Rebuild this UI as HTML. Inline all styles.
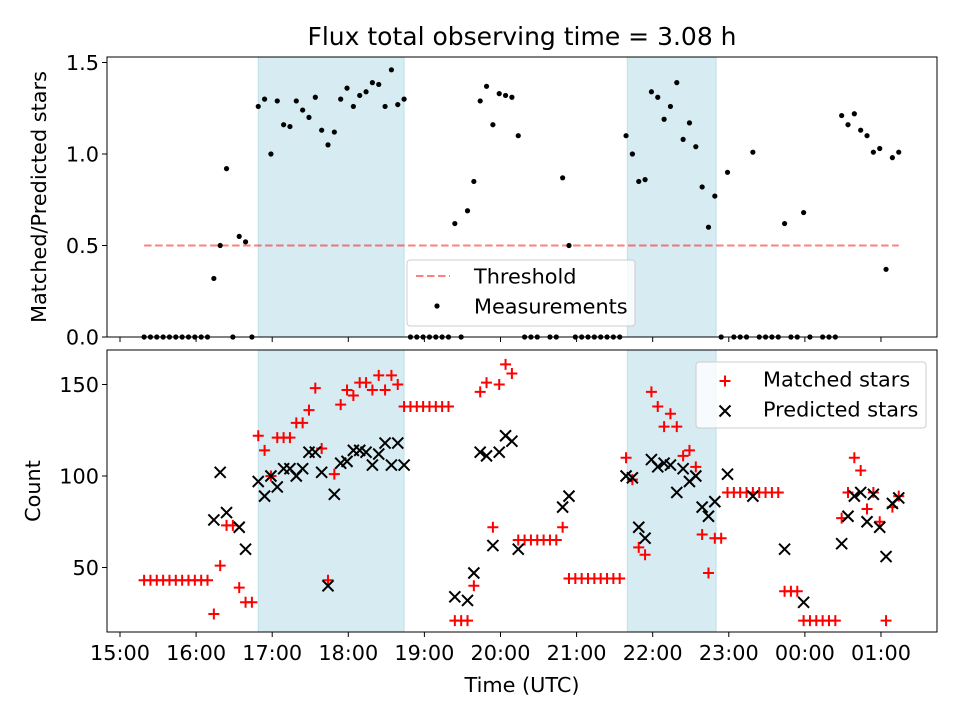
<!DOCTYPE html>
<html><head><meta charset="utf-8"><style>
html,body{margin:0;padding:0;background:#fff;}
svg{display:block;font-family:"DejaVu Sans","Liberation Sans",sans-serif;}
</style></head><body>
<svg id="chart" width="960" height="720" viewBox="0 0 960 720" xmlns="http://www.w3.org/2000/svg">
<rect width="960" height="720" fill="#fff"/>
<text x="522" y="45" font-size="25" text-anchor="middle">Flux total observing time = 3.08 h</text>
<g id="topPanel"></g><g id="botPanel"></g>
<text transform="translate(46,197) rotate(-90)" font-size="20.8" text-anchor="middle">Matched/Predicted stars</text>
<text transform="translate(40,491) rotate(-90)" font-size="20.8" text-anchor="middle">Count</text>
<text x="522" y="692" font-size="20.8" text-anchor="middle">Time (UTC)</text>
</svg>
<script>
// times in minutes after 15:00 UTC
const xTickMinutes = [0,60,120,180,240,300,360,420,480,540,600];
const xTickLabels = ["15:00","16:00","17:00","18:00","19:00","20:00","21:00","22:00","23:00","00:00","01:00"];
const topYTicks = [0.0,0.5,1.0,1.5];
const topYTickLabels = ["0.0","0.5","1.0","1.5"];
const botYTicks = [50,100,150];
const botYTickLabels = ["50","100","150"];
const shadeStart = [109,400];
const shadeEnd = [224,470];
const threshold = 0.5;
const thresholdStart = 19;
const thresholdEnd = 614;
const ratioTimes = [19,24,29,34,39,44,49,54,59,64,69,74,79,84,89,94,99,104,109,114,119,124,129,134,139,144,149,154,159,164,169,174,179,184,189,194,199,204,209,214,219,224,229,234,239,244,249,254,259,264,269,274,279,284,289,294,299,304,309,314,319,324,329,339,344,349,354,359,364,369,374,379,384,389,394,399,404,409,414,419,424,429,434,439,444,449,454,459,464,469,474,479,484,489,494,499,504,509,514,519,524,529,534,539,544,554,559,564,569,574,579,584,589,594,599,604,609,614];
const ratioValues = [0,0,0,0,0,0,0,0,0,0,0,0.32,0.5,0.92,0,0.55,0.52,0,1.26,1.30,1.00,1.29,1.16,1.15,1.29,1.24,1.20,1.31,1.13,1.05,1.12,1.30,1.36,1.26,1.32,1.34,1.39,1.38,1.26,1.46,1.27,1.30,0,0,0,0,0,0,0,0.62,0,0.69,0.85,1.29,1.37,1.16,1.33,1.32,1.31,1.10,0,0,0,0,0,0.87,0.5,0,0,0,0,0,0,0,0,1.10,1.00,0.85,0.86,1.34,1.31,1.19,1.26,1.39,1.08,1.17,1.04,0.82,0.60,0.77,0,0.90,0,0,0,1.01,0,0,0,0,0.62,0,0,0.68,0,0,0,0,1.21,1.16,1.22,1.13,1.10,1.01,1.03,0.37,0.98,1.01];
const matchedTimes = [19,24,29,34,39,44,49,54,59,64,69,74,79,84,89,94,99,104,109,114,119,124,129,134,139,144,149,154,159,164,169,174,179,184,189,194,199,204,209,214,219,224,229,234,239,244,249,254,259,264,269,274,279,284,289,294,299,304,309,314,319,324,329,334,339,344,349,354,359,364,369,374,379,384,389,394,399,404,409,414,419,424,429,434,439,444,449,454,459,464,469,474,479,484,489,494,499,504,509,514,519,524,529,534,539,544,549,554,559,564,569,574,579,584,589,594,599,604,609,614];
const matchedValues = [43,43,43,43,43,43,43,43,43,43,43,24.6,51,73,73,39,31,31,122,114,100,121,121,121,129,129,136,148,115,43,101,139,147,144,151,151,147,155,147,155,150,138,138,138,138,138,138,138,138,21,21,21,40,146,151,72,150,161,156,65,65,65,65,65,65,65,72,44,44,44,44,44,44,44,44,44,110,98,61,57,146,138,127,134,127,111,114,105,68,47,66,66,91,91,91,91,91,91,91,91,91,37,37,37,21,21,21,21,21,21,77,91,110,103,82,91,75,21,83,89];
const predictedTimes = [74,79,84,94,99,109,114,119,124,129,134,139,144,149,154,159,164,169,174,179,184,189,194,199,204,209,214,219,224,264,274,279,284,289,294,299,304,309,314,349,354,399,404,409,414,419,424,429,434,439,444,449,454,459,464,469,479,499,524,539,569,574,579,584,589,594,599,604,609,614];
const predictedValues = [76,102,80,72,60,97,89,100,94,104,104,100,104,113,113,102,40,90,107,108,114,114,113,106,112,118,106,118,106,34,32,47,113,111,62,113,122,119,60,83,89,100,99,72,66,109,105,107,106,91,104,97,100,83,78,86,101,89,60,31,63,78,89,91,75,90,72,56,85,88];

const NS="http://www.w3.org/2000/svg";
const L=107,R=937;
const FS=20.8;
const xs=m=>120+m*1.2683;
const yT=v=>337-183*v;
const yB=v=>659-1.83*v;
function mk(p,tag,at){const e=document.createElementNS(NS,tag);for(const k in at)e.setAttribute(k,at[k]);p.appendChild(e);return e;}
const topG=document.getElementById('topPanel'), botG=document.getElementById('botPanel');

function panel(g,y0,y1,isTop){
  for(let i=0;i<shadeStart.length;i++){
    const r=mk(g,'rect',{x:xs(shadeStart[i]),y:y0,width:xs(shadeEnd[i])-xs(shadeStart[i]),height:y1-y0,fill:'#add8e6','fill-opacity':0.5,stroke:'#add8e6','stroke-opacity':0.7});
    
    
  }
  for(let i=0;i<xTickMinutes.length;i++){
    const x=xs(xTickMinutes[i]);
    const t=mk(g,'line',{x1:x,x2:x,y1:y1,y2:y1+5,stroke:'#000','stroke-width':1});
    
    
    if(!isTop){
      const tl=mk(g,'text',{x:x,y:y1+28,'font-size':FS,'text-anchor':'middle'});
      tl.textContent=xTickLabels[i];
      
      
    }
  }
}
panel(topG,57,337,true);
panel(botG,350,632,false);

topYTicks.forEach((v,i)=>{
  const y=yT(v);
  const t=mk(topG,'line',{x1:L-5,x2:L,y1:y,y2:y,stroke:'#000'});
  
  
  const tl=mk(topG,'text',{x:L-8,y:y+7.5,'font-size':FS,'text-anchor':'end'});
  tl.textContent=topYTickLabels[i];
  
  
});
botYTicks.forEach((v,i)=>{
  const y=yB(v);
  const t=mk(botG,'line',{x1:L-5,x2:L,y1:y,y2:y,stroke:'#000'});
  
  
  const tl=mk(botG,'text',{x:L-8,y:y+7.5,'font-size':FS,'text-anchor':'end'});
  tl.textContent=botYTickLabels[i];
  
  
});

const th=mk(topG,'line',{x1:xs(thresholdStart),x2:xs(thresholdEnd),y1:yT(threshold),y2:yT(threshold),stroke:'#ff0000','stroke-opacity':0.5,'stroke-width':2,'stroke-dasharray':'7.5,3.5'});



ratioTimes.forEach((m,i)=>{
  const c=mk(topG,'circle',{cx:xs(m),cy:yT(ratioValues[i]),r:2.6,fill:'#000'});
  
  
});

function plus(g,x,y,col,s){
  return mk(g,'path',{d:`M${x-s},${y}H${x+s}M${x},${y-s}V${y+s}`,stroke:col,'stroke-width':2,fill:'none'});
}
function cross(g,x,y,col,s){
  return mk(g,'path',{d:`M${x-s},${y-s}L${x+s},${y+s}M${x-s},${y+s}L${x+s},${y-s}`,stroke:col,'stroke-width':2,fill:'none'});
}
matchedTimes.forEach((m,i)=>{
  const p=plus(botG,xs(m),yB(matchedValues[i]),'#ff0000',5.5);
  
  
});
predictedTimes.forEach((m,i)=>{
  const p=cross(botG,xs(m),yB(predictedValues[i]),'#000',5.5);
  
  
});

const f1=mk(topG,'rect',{x:L,y:57,width:R-L,height:280,fill:'none',stroke:'#000','stroke-width':1});


const f2=mk(botG,'rect',{x:L,y:350,width:R-L,height:282,fill:'none',stroke:'#000','stroke-width':1});



const lg1=mk(topG,'g',{});


mk(lg1,'rect',{x:407,y:260,width:228,height:66,rx:3,fill:'#fff','fill-opacity':0.8,stroke:'#ccc'});
mk(lg1,'line',{x1:416,x2:450,y1:276,y2:276,stroke:'#ff0000','stroke-opacity':0.5,'stroke-width':2,'stroke-dasharray':'7.5,3.5'});
const t1=mk(lg1,'text',{x:474,y:283.5,'font-size':FS});t1.textContent='Threshold';


mk(lg1,'circle',{cx:437,cy:306,r:2.6,fill:'#000'});
const t2=mk(lg1,'text',{x:474,y:313.5,'font-size':FS});t2.textContent='Measurements';



const lg2=mk(botG,'g',{});


mk(lg2,'rect',{x:696,y:362,width:230,height:66,rx:3,fill:'#fff','fill-opacity':0.8,stroke:'#ccc'});
plus(lg2,725,381,'#ff0000',5.5);
const t3=mk(lg2,'text',{x:763,y:386.5,'font-size':FS});t3.textContent='Matched stars';


cross(lg2,725,411,'#000',5.5);
const t4=mk(lg2,'text',{x:763,y:416.5,'font-size':FS});t4.textContent='Predicted stars';


</script>
</body></html>
